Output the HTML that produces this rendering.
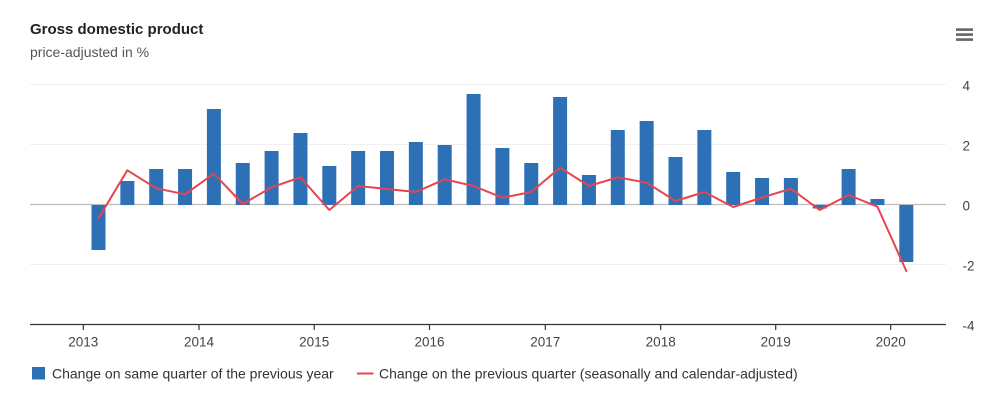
<!DOCTYPE html>
<html>
<head>
<meta charset="utf-8">
<style>
html,body{margin:0;padding:0;background:#fff;}
svg{display:block;}
text{font-family:"Liberation Sans",sans-serif;}
</style>
</head>
<body>
<svg width="991" height="401" viewBox="0 0 991 401" xmlns="http://www.w3.org/2000/svg">
<rect x="0" y="0" width="991" height="401" fill="#fff"/>
<text x="30" y="34" font-size="15" font-weight="bold" fill="#222">Gross domestic product</text>
<text x="30" y="57" font-size="14" fill="#555">price-adjusted in %</text>
<g fill="#666">
<rect x="956" y="28.3" width="17" height="2.6"/>
<rect x="956" y="33.3" width="17" height="2.6"/>
<rect x="956" y="38.3" width="17" height="2.6"/>
</g>
<g stroke="#f0f0f0" stroke-width="1">
<line x1="30" y1="84.5" x2="946" y2="84.5"/>
<line x1="30" y1="144.5" x2="946" y2="144.5"/>
<line x1="30" y1="264.5" x2="946" y2="264.5"/>
</g>
<line x1="30" y1="204.5" x2="946" y2="204.5" stroke="#bdbdbd" stroke-width="1.2"/>
<g fill="#2e70b5">
<rect x="91.5" y="205" width="14" height="45"/>
<rect x="120.35" y="181" width="14" height="24"/>
<rect x="149.2" y="169" width="14" height="36"/>
<rect x="178.05" y="169" width="14" height="36"/>
<rect x="206.9" y="109" width="14" height="96"/>
<rect x="235.75" y="163" width="14" height="42"/>
<rect x="264.6" y="151" width="14" height="54"/>
<rect x="293.45" y="133" width="14" height="72"/>
<rect x="322.3" y="166" width="14" height="39"/>
<rect x="351.15" y="151" width="14" height="54"/>
<rect x="380" y="151" width="14" height="54"/>
<rect x="408.85" y="142" width="14" height="63"/>
<rect x="437.7" y="145" width="14" height="60"/>
<rect x="466.55" y="94" width="14" height="111"/>
<rect x="495.4" y="148" width="14" height="57"/>
<rect x="524.25" y="163" width="14" height="42"/>
<rect x="553.1" y="97" width="14" height="108"/>
<rect x="581.95" y="175" width="14" height="30"/>
<rect x="610.8" y="130" width="14" height="75"/>
<rect x="639.65" y="121" width="14" height="84"/>
<rect x="668.5" y="157" width="14" height="48"/>
<rect x="697.35" y="130" width="14" height="75"/>
<rect x="726.2" y="172" width="14" height="33"/>
<rect x="755.05" y="178" width="14" height="27"/>
<rect x="783.9" y="178" width="14" height="27"/>
<rect x="812.75" y="205" width="14" height="3.5"/>
<rect x="841.6" y="169" width="14" height="36"/>
<rect x="870.45" y="199" width="14" height="6"/>
<rect x="899.3" y="205" width="14" height="57"/>
</g>
<polyline fill="none" stroke="#e8444f" stroke-width="2" stroke-linejoin="round" stroke-linecap="round"
points="98.5,218.3 127.35,170.3 156.2,188.3 185.05,194.3 213.9,173.7 242.75,204 271.6,187.3 300.45,177.3 329.3,210 358.15,186 387,189 415.85,192 444.7,179.3 473.55,186 502.4,197.7 531.25,192 560.1,167.7 588.95,186 617.8,177.3 646.65,182.7 675.5,201 704.35,192 733.2,207 762.05,197.5 790.9,188.7 819.75,210 848.6,195 877.45,206.7 906.3,271"/>
<line x1="30" y1="324.5" x2="946" y2="324.5" stroke="#333" stroke-width="1.2"/>
<g stroke="#333" stroke-width="1.2">
<line x1="83.3" y1="324.5" x2="83.3" y2="330"/>
<line x1="199" y1="324.5" x2="199" y2="330"/>
<line x1="314.2" y1="324.5" x2="314.2" y2="330"/>
<line x1="429.5" y1="324.5" x2="429.5" y2="330"/>
<line x1="545.3" y1="324.5" x2="545.3" y2="330"/>
<line x1="660.7" y1="324.5" x2="660.7" y2="330"/>
<line x1="775.7" y1="324.5" x2="775.7" y2="330"/>
<line x1="890.7" y1="324.5" x2="890.7" y2="330"/>
</g>
<g font-size="13.5" fill="#444" text-anchor="middle">
<text x="83.3" y="346.5">2013</text>
<text x="199" y="346.5">2014</text>
<text x="314.2" y="346.5">2015</text>
<text x="429.5" y="346.5">2016</text>
<text x="545.3" y="346.5">2017</text>
<text x="660.7" y="346.5">2018</text>
<text x="775.7" y="346.5">2019</text>
<text x="890.7" y="346.5">2020</text>
</g>
<g font-size="13.5" fill="#444">
<text x="962.5" y="90.5">4</text>
<text x="962.5" y="150.5">2</text>
<text x="962.5" y="210.5">0</text>
<text x="962.5" y="270.5">-2</text>
<text x="962.5" y="330.5">-4</text>
</g>
<rect x="32" y="367" width="13" height="12.5" fill="#2e70b5"/>
<text x="52" y="378.5" font-size="14" fill="#333">Change on same quarter of the previous year</text>
<line x1="357" y1="373.5" x2="373.5" y2="373.5" stroke="#e8444f" stroke-width="2"/>
<text x="379" y="378.5" font-size="14" fill="#333">Change on the previous quarter (seasonally and calendar-adjusted)</text>
</svg>
</body>
</html>
